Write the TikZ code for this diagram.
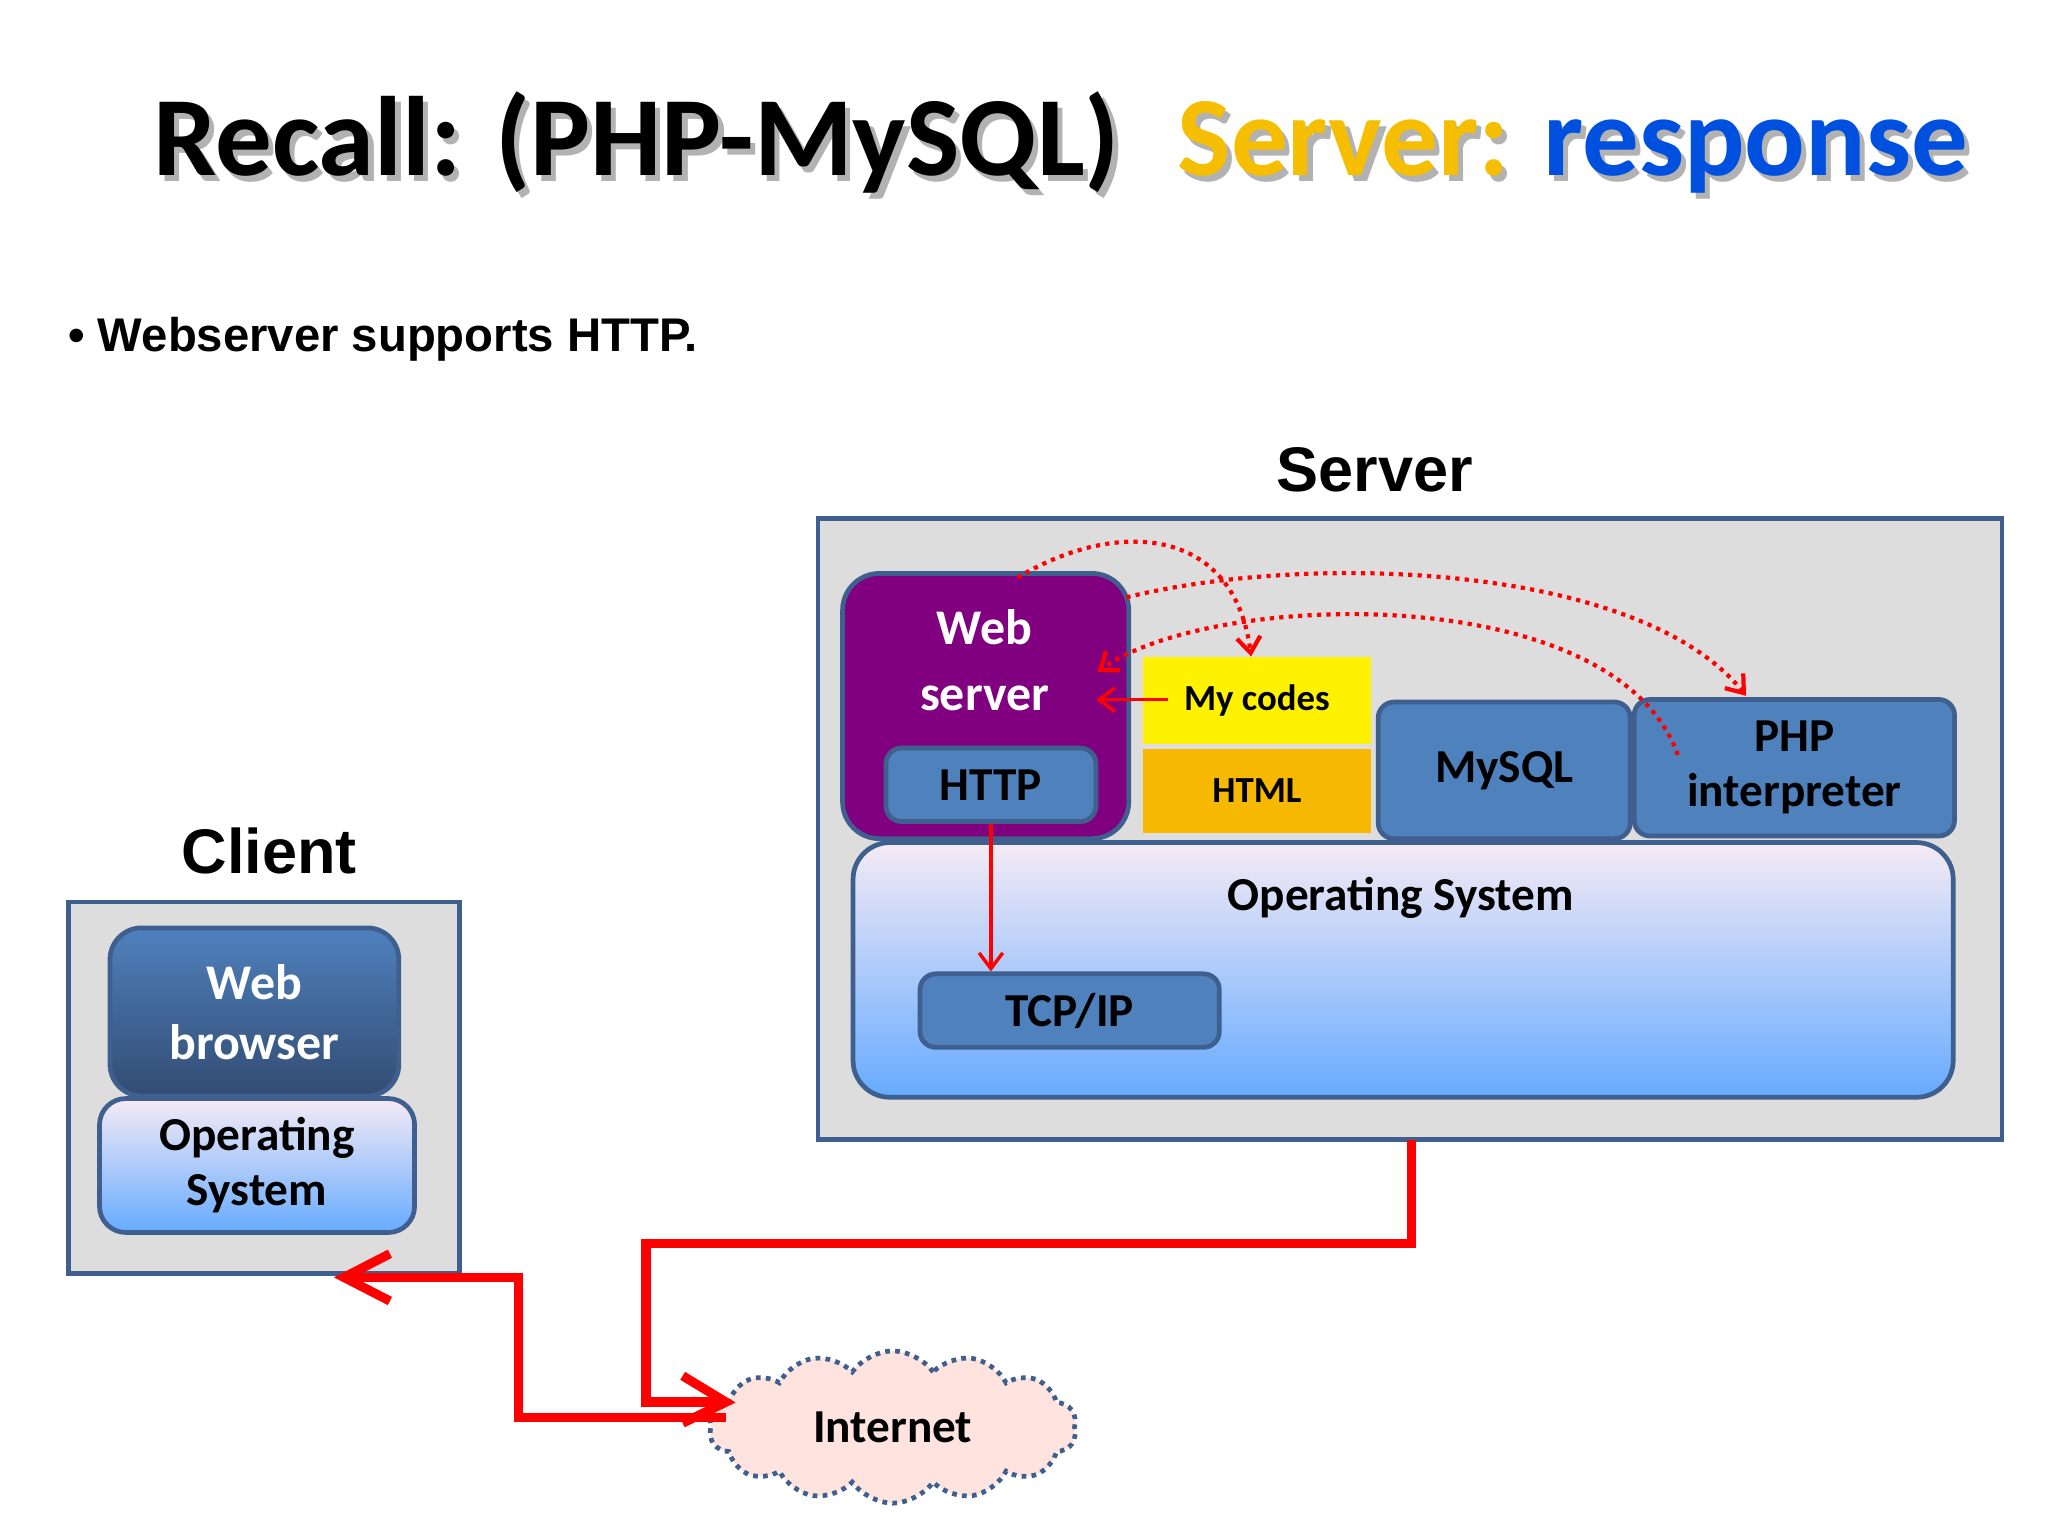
\documentclass[tikz,border=0pt]{standalone}
\usepackage{fontspec}
\setmainfont{Carlito}
\newfontfamily\arial{Liberation Sans}
\usetikzlibrary{shapes.symbols,arrows.meta}
\definecolor{bord}{HTML}{3F5F8F}
\definecolor{boxblue}{HTML}{4F81BD}
\definecolor{srvgray}{HTML}{DDDDDD}
\definecolor{ttlyel}{HTML}{F5BE00}
\definecolor{ttlblue}{HTML}{0050E0}
\definecolor{purp}{HTML}{800080}
\begin{document}
\begin{tikzpicture}[x=0.5pt,y=-0.5pt,
  lbl/.style={font=\fontsize{18}{21}\selectfont\bfseries,align=center},
  ttl/.style={font=\fontsize{43}{48}\selectfont\bfseries,anchor=base west},
  blk/.style={draw=bord,line width=1.8pt,fill=boxblue,rounded corners=6pt},
  frame/.style={draw=bord,line width=1.8pt,fill=srvgray},
  os/.style={draw=bord,line width=1.8pt,rounded corners=14pt,top color=violet!8,bottom color=blue!55!cyan!60},
  dotar/.style={red,dotted,line width=1.6pt,-{Straight Barb[length=6pt,width=9pt]}},
  solar/.style={red,line width=1.3pt,-{Straight Barb[length=6pt,width=9pt]}},
  bigar/.style={red,line width=3.5pt}]
\useasboundingbox (0,0) rectangle (1560,1170);
% title
\node[ttl,text=gray!60] at (114,138) {Recall: (PHP-MySQL)};
\node[ttl] (t1) at (110,134) {Recall: (PHP-MySQL)};
\node[ttl,text=gray!60] at (894,138) {Server: response};
\node[ttl] (t2) at (890,134) {\textcolor{ttlyel}{Server:} \textcolor{ttlblue}{response}};
\node[anchor=base west,font=\arial\fontsize{18}{21}\selectfont\bfseries] (b) at (45,268) {\textbullet\ Webserver supports HTTP.};
\node[font=\arial\fontsize{24}{28}\selectfont\bfseries] (sl) at (1047,358) {Server};
\node[font=\arial\fontsize{24}{28}\selectfont\bfseries] (cl) at (205,648) {Client};
% server
\draw[frame] (623,395) rectangle (1525,868);
\node[os,minimum width=419pt,minimum height=97pt,anchor=north west] (sos) at (648,640) {};
\node[lbl] at (1067,684) {Operating System};
\node[draw=bord,line width=1.8pt,fill=purp,rounded corners=14pt,minimum width=109pt,minimum height=101pt,anchor=north west] (ws) at (640,435) {};
\node[lbl,text=white,font=\fontsize{19}{23}\selectfont\bfseries] at (750,503) {Web\\[2pt]server};
\node[blk,minimum width=80pt,minimum height=28pt,anchor=north west,lbl] (http) at (673,568) {HTTP};
\node[fill=yellow,minimum width=87pt,minimum height=33pt,anchor=north west,lbl,font=\fontsize{14}{16}\selectfont\bfseries] (myc) at (870,500) {My codes};
\node[fill=ttlyel!90!orange,minimum width=87pt,minimum height=32pt,anchor=north west,font=\fontsize{14}{16}\selectfont\bfseries] (html) at (870,570) {HTML};
\node[blk,minimum width=96pt,minimum height=52pt,anchor=north west,lbl] (mysql) at (1048,533) {MySQL};
\node[blk,minimum width=122pt,minimum height=52pt,anchor=north west,lbl] (php) at (1243,531) {PHP\\interpreter};
\node[blk,minimum width=114pt,minimum height=28pt,anchor=north west,lbl] (tcp) at (699,740) {TCP/IP};
% client
\draw[frame] (52,687) rectangle (350,970);
\node[blk,top color=boxblue,bottom color=bord!80!black,rounded corners=12pt,minimum width=110pt,minimum height=64pt,anchor=north west,lbl,text=white,font=\fontsize{19}{23}\selectfont\bfseries] (wb) at (82,705) {Web\\browser};
\node[os,rounded corners=10pt,minimum width=120pt,minimum height=51pt,anchor=north west,lbl] (cos) at (74,835) {Operating\\System};
% internet
\node[cloud,cloud puffs=14,cloud puff arc=110,aspect=2.6,draw=bord,dotted,line width=1.8pt,fill=orange!10!pink!40,minimum width=140pt,minimum height=58pt,lbl] (inet) at (680,1087) {Internet};
\coordinate (sb) at (1075,868);
\coordinate (ia) at (553,1068);
\coordinate (ib) at (553,1080);
\coordinate (ca) at (262,973);
\draw[bigar] (sb) -- (1075,947) -- (492,947) -- (492,1068) -- (ia);
\draw[bigar] (520,1048) -- (ia) -- (520,1084);
\draw[bigar] (ib) -- (395,1080) -- (395,973) -- (ca);
\draw[bigar] (297,955) -- (ca) -- (297,991);
% internal arrows
\coordinate (d1) at (775,440);
\draw[dotar] (d1) .. controls (850,395) and (940,400) .. (953,500);
\coordinate (d2) at (858,455);
\draw[dotar] (d2) .. controls (1000,420) and (1250,430) .. (1330,530);
\coordinate (d3) at (1278,575);
\draw[dotar] (d3) .. controls (1230,440) and (920,450) .. (836,512);
\draw[solar] (890,533) -- (835,533);
\draw[solar] (http.south) -- (tcp.north -| http.south);
\end{tikzpicture}
\end{document}
